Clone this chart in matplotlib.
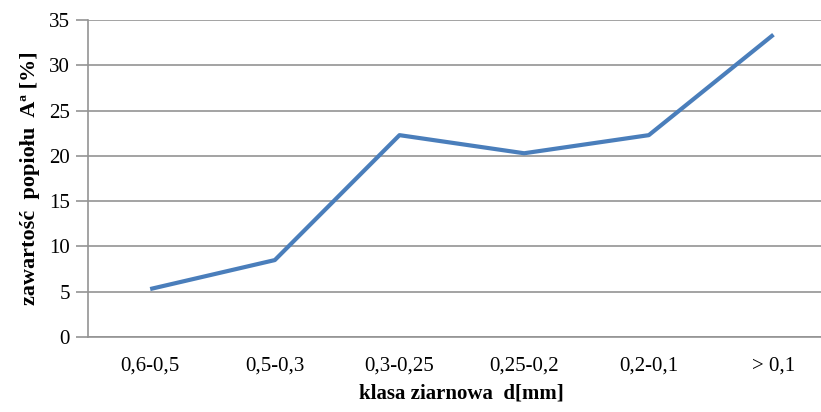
import matplotlib.pyplot as plt

# ash content per grain size class
classes = ["0,6-0,5", "0,5-0,3", "0,3-0,25", "0,25-0,2", "0,2-0,1", "> 0,1"]
ash = [5.3, 8.5, 22.3, 20.3, 22.3, 33.4]
yticks = [0, 5, 10, 15, 20, 25, 30, 35]

plt.rcParams['font.family'] = ['Liberation Serif', 'DejaVu Serif']

fig = plt.figure(figsize=(8.21, 4.12), dpi=100)
# plot area runs slightly past the right edge of the canvas
ax = fig.add_axes([0.107, 0.182, 0.911, 0.769])

x = range(len(classes))
ax.plot(x, ash, color='#4a7ebb', linewidth=3.0, solid_capstyle='butt', zorder=3)

ax.set_xlim(-0.5, len(classes) - 0.5)
ax.set_ylim(0, 35)
ax.set_yticks(yticks)
ax.set_xticks(list(x))
ax.set_xticklabels(classes)

ax.grid(axis='y', color='#949494', linewidth=1.2)
ax.set_axisbelow(True)
for side in ['top', 'right']:
    ax.spines[side].set_visible(False)
for side in ['left', 'bottom']:
    ax.spines[side].set_color('#949494')
    ax.spines[side].set_linewidth(1.2)

ax.tick_params(axis='y', length=9, width=1.2, color='#949494', pad=4, labelsize=15)
ax.tick_params(axis='x', length=0, pad=14, labelsize=15)

ax.set_xlabel("klasa ziarnowa  d[mm]", fontsize=15, fontweight='bold', labelpad=6)
ax.set_ylabel("zawartość  popiołu  Aª [%]", fontsize=16, fontweight='bold', labelpad=6)

fig.savefig("out.png", dpi=100)
